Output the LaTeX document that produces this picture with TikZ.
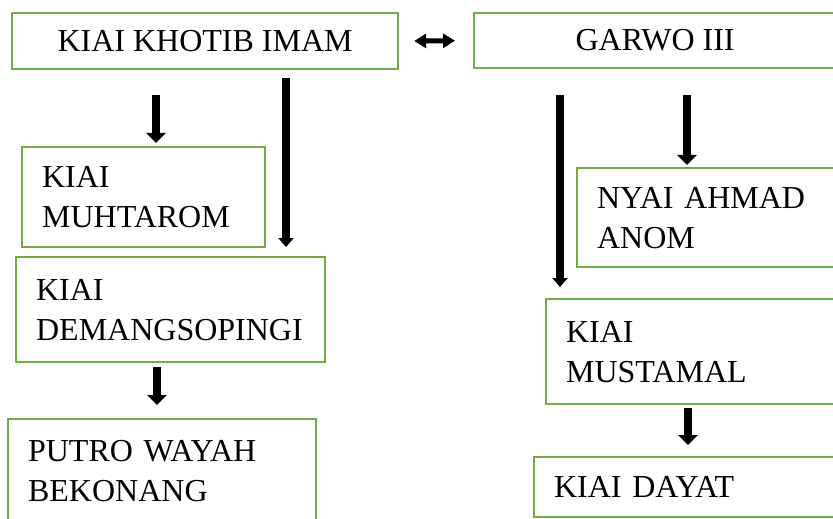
\documentclass[tikz,border=0pt]{standalone}
\usepackage{fontspec}
\setmainfont{Liberation Serif}
\usepackage{xcolor}
\usepackage{tikz}
\usetikzlibrary{arrows.meta,positioning}

\definecolor{boxgreen}{RGB}{112,173,71}

\begin{document}
\begin{tikzpicture}[
    x=0.5pt, y=-0.5pt,
    kin/.style={draw=boxgreen, line width=1.1pt, anchor=north west, inner xsep=10pt, align=left, font=\fontsize{16pt}{20pt}\selectfont},
    top/.style={kin, align=center},
    ar/.style={-{Triangle[width=9.5pt,length=5pt]}, line width=4pt},
    arl/.style={-{Triangle[width=7.5pt,length=4.5pt]}, line width=4pt},
    dar/.style={{Triangle[width=7pt,length=6pt]}-{Triangle[width=7pt,length=6pt]}, line width=2.5pt}
  ]
    \useasboundingbox (0,0) rectangle (833,518);
    \clip (0,0) rectangle (833,518);

    \node[top, minimum width=193pt, minimum height=28pt] (khotib) at (11,12) {KIAI KHOTIB IMAM};
    \node[top, minimum width=181pt, minimum height=27.5pt] (garwo) at (473,12) {GARWO III};
    \node[kin, text width=101.5pt, minimum height=50pt] (muhtarom) at (21,146) {KIAI\\MUHTAROM};
    \node[kin, text width=134.5pt, minimum height=52.5pt] (demang) at (15,256) {KIAI\\DEMANGSOPINGI};
    \node[kin, text width=134pt, minimum height=52pt] (putro) at (7,418) {PUTRO WAYAH\\BEKONANG};
    \node[kin, text width=113.5pt, minimum height=49.5pt] (nyai) at (576,167) {NYAI AHMAD\\ANOM};
    \node[kin, text width=130pt, minimum height=52.5pt] (mustamal) at (545,298) {KIAI\\MUSTAMAL};
    \node[kin, text width=135pt, minimum height=30pt] (dayat) at (533,456) {KIAI DAYAT};

    \draw[dar, shorten <=7.5pt, shorten >=9pt] (khotib.east) -- (garwo.west);
    \draw[ar, shorten <=12.5pt, shorten >=1.5pt] ([xshift=72.5pt]khotib.south west) -- ([xshift=67.5pt]muhtarom.north west);
    \draw[arl, shorten <=4pt, shorten >=4.5pt] ([xshift=137.5pt]khotib.south west) -- ([xshift=135.5pt]demang.north west);
    \draw[ar, shorten <=2pt, shorten >=6.5pt] ([xshift=71pt]demang.south west) -- ([xshift=75pt]putro.north west);
    \draw[arl, shorten <=13pt, shorten >=5.5pt] ([xshift=43.5pt]garwo.south west) -- ([xshift=7.5pt]mustamal.north west);
    \draw[ar, shorten <=13pt, shorten >=1pt] ([xshift=107pt]garwo.south west) -- ([xshift=55.5pt]nyai.north west);
    \draw[ar, shorten <=1.5pt, shorten >=5.5pt] ([xshift=71.5pt]mustamal.south west) -- ([xshift=77.5pt]dayat.north west);
  \end{tikzpicture}
\end{document}
